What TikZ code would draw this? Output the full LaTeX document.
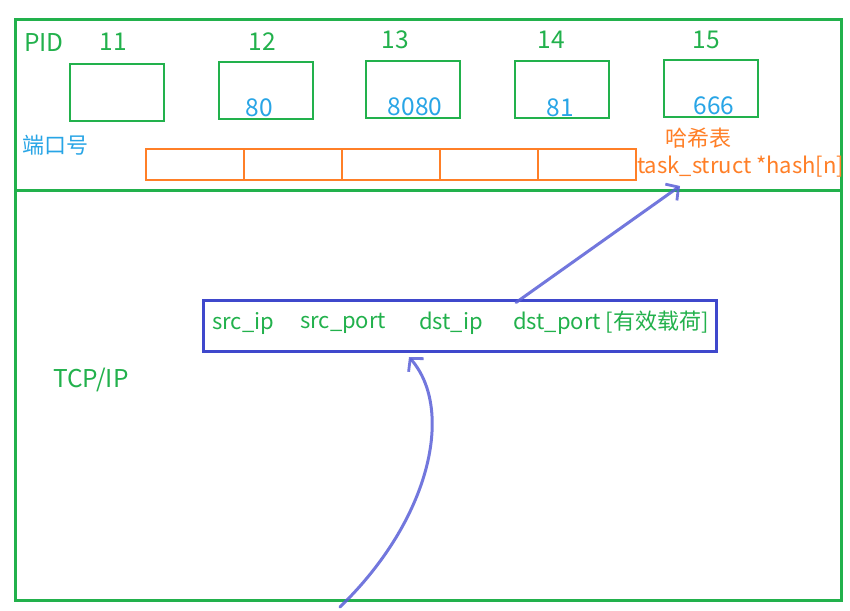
\documentclass[tikz,border=0pt]{standalone}
\usepackage{fontspec}
\setmainfont{Noto Sans CJK SC}
\usetikzlibrary{arrows.meta}
\definecolor{pgreen}{RGB}{34,177,76}
\definecolor{porange}{RGB}{255,127,39}
\definecolor{pblue}{RGB}{40,165,230}
\definecolor{pindigo}{RGB}{63,72,204}
\definecolor{parrow}{RGB}{90,96,216}
\begin{document}
\begin{tikzpicture}[x=1pt,y=-1pt,
  txt/.style={inner sep=0pt,font=\fontsize{22}{26}\selectfont},
  big/.style={font=\fontsize{24.5}{28}\selectfont},
  gtxt/.style={txt,text=pgreen},
  btxt/.style={txt,text=pblue},
  otxt/.style={txt,text=porange},
  frame/.style={draw=pgreen,line width=3pt},
  pidbox/.style={draw=pgreen,line width=2.9pt,minimum width=94pt,minimum height=57pt,inner sep=0pt},
  cell/.style={draw=porange,line width=2.6pt,minimum width=98pt,minimum height=31pt,inner sep=0pt},
  pkt/.style={draw=pindigo,line width=3pt,minimum width=513pt,minimum height=51pt,inner sep=0pt},
  conn/.style={draw=parrow,opacity=0.85,line width=3pt,line cap=round,
    -{Straight Barb[length=9pt,width=20pt,line width=2.8pt]}}
]
\useasboundingbox (0,0) rectangle (850,610);
\fill[white] (0,0) rectangle (850,610);
% frames
\draw[frame] (15,20) rectangle (841,190);
\draw[frame] (15,190) rectangle (841,600);
% PID row
\node[gtxt,big,anchor=west] (pid) at (24,43) {PID};
\node[pidbox] (b11) at (117,92.5) {};
\node[pidbox] (b12) at (266,90.5) {};
\node[pidbox] (b13) at (413,89.5) {};
\node[pidbox] (b14) at (562,89.5) {};
\node[pidbox] (b15) at (711,88.5) {};
\node[gtxt,big] (l11) at (113,42) {11};
\node[gtxt,big] (l12) at (262,42) {12};
\node[gtxt,big] (l13) at (395,40) {13};
\node[gtxt,big] (l14) at (551,40) {14};
\node[gtxt,big] (l15) at (706,40) {15};
\node[btxt,big] (p12) at (259,108) {80};
\node[btxt,big] (p13) at (415,107) {8080};
\node[btxt,big] (p14) at (560,108) {81};
\node[btxt,big] (p15) at (714,106) {666};
\node[btxt,anchor=west] (port) at (22,145) {端口号};
% hash table
\node[cell] (c1) at (195,164.5) {};
\node[cell] (c2) at (293,164.5) {};
\node[cell] (c3) at (391,164.5) {};
\node[cell] (c4) at (489,164.5) {};
\node[cell] (c5) at (587,164.5) {};
\node[otxt] (hz) at (698,138) {哈希表};
\node[otxt,anchor=west] (hash) at (637,167) {task\_struct *hash[n]};
% packet
\node[pkt] (pk) at (459.5,325.5) {};
\node[gtxt,anchor=west] (t1) at (212,323) {src\_ip};
\node[gtxt,anchor=west] (t2) at (300,323) {src\_port};
\node[gtxt,anchor=west] (t3) at (419,323) {dst\_ip};
\node[gtxt,anchor=west] (t4) at (513,323) {dst\_port [有效载荷]};
\node[gtxt,big,anchor=west] (tcp) at (53,380) {TCP/IP};
% arrows
\coordinate (a1e) at (680,186);
\coordinate (a2s) at (340,607);
\coordinate (a2e) at (409,357);
\draw[conn] ([xshift=56.5pt,yshift=-4pt]pk.north) -- (a1e);
\draw[conn] (a2s) .. controls (430,520) and (455,410) .. (a2e);
\end{tikzpicture}
\end{document}
